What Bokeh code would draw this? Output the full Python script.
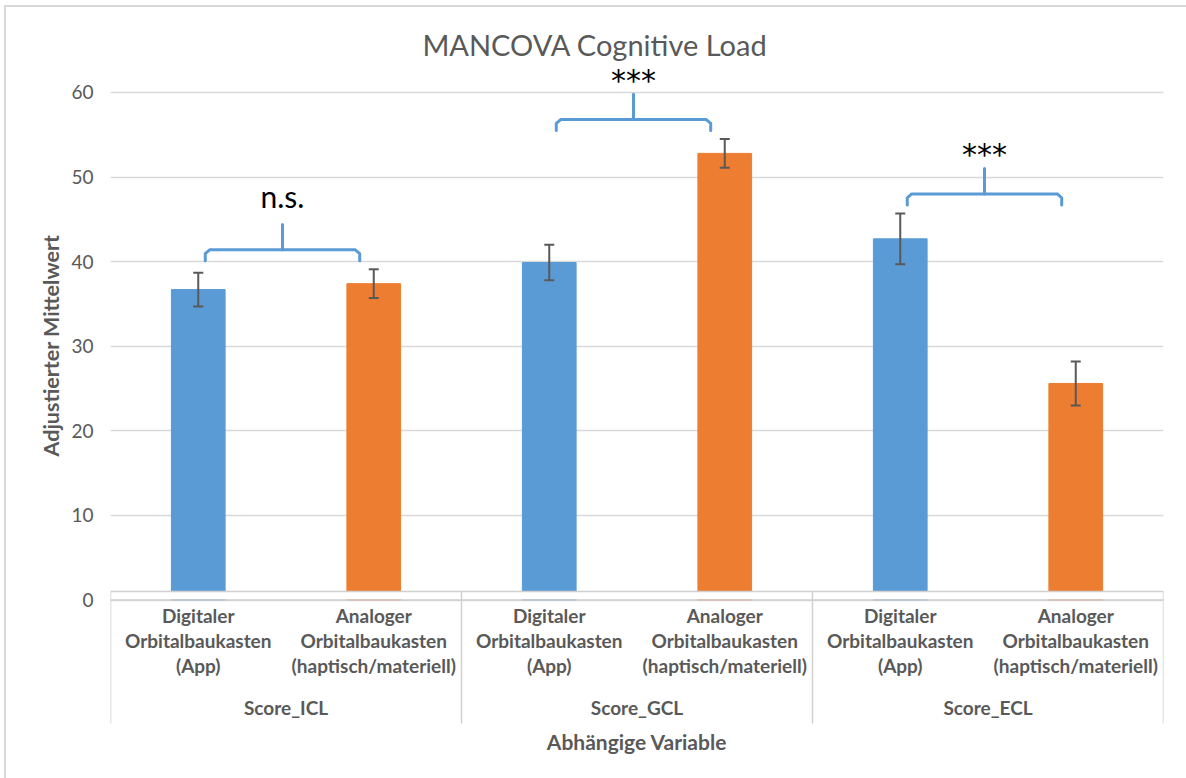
from bokeh.core.properties import value
from bokeh.embed import file_html
from bokeh.models import (ColumnDataSource, FactorRange, FixedTicker, Range1d,
                          TeeHead, Title, Whisker)
from bokeh.plotting import figure
from bokeh.resources import INLINE

# Dependent variables (outer groups) and the two learning conditions
variables = ["Score_ICL", "Score_GCL", "Score_ECL"]
conditions = ["Digitaler Orbitalbaukasten (App)",
              "Analoger Orbitalbaukasten (haptisch/materiell)"]

# Adjusted means and error-bar half widths, one entry per variable
mean_digital = [36.7, 39.9, 42.7]
mean_analog = [37.4, 52.8, 25.6]
err_digital = [2.0, 2.1, 3.0]
err_analog = [1.7, 1.7, 2.6]

# Pairwise comparison result per variable
significance = ["n.s.", "***", "***"]

y_ticks = [0, 10, 20, 30, 40, 50, 60]

title_text = "MANCOVA Cognitive Load"
y_title = "Adjustierter Mittelwert"
x_title = "Abhängige Variable"

BLUE = "#5B9BD5"
ORANGE = "#ED7D31"
TEXT_GREY = "#595959"
GRID = "#D9D9D9"
BOX = "#D0D0D0"
FONT = "Lato"

# ---- long-form bar table -------------------------------------------------
factors, tops, errs, colors = [], [], [], []
for i, var in enumerate(variables):
    factors += [(var, conditions[0]), (var, conditions[1])]
    tops += [mean_digital[i], mean_analog[i]]
    errs += [err_digital[i], err_analog[i]]
    colors += [BLUE, ORANGE]

src = ColumnDataSource(dict(
    x=factors,
    top=tops,
    upper=[t + e for t, e in zip(tops, errs)],
    lower=[t - e for t, e in zip(tops, errs)],
    color=colors,
    label=[c.replace(" ", "\n") for _, c in factors],
))

n = len(factors)
x_range = FactorRange(*factors, factor_padding=0, group_padding=0,
                      range_padding=0)

# transparent canvas so the chart-area border (inset shadow on the host
# element) shows along the left and top edges
p = figure(width=1186, height=778, x_range=x_range,
           y_range=Range1d(-21.09, 70.87),
           x_axis_location=None, y_axis_location="left",
           toolbar_location=None, output_backend="svg",
           min_border_left=110, min_border_right=23,
           min_border_top=0, min_border_bottom=0,
           outline_line_color=None, background_fill_color=None,
           border_fill_color=None,
           styles={"background-color": "white",
                   "box-shadow": "inset 4px 5px 0 0 white, "
                                 "inset 6px 7px 0 0 #D9D9D9"})

# ---- value axis and grid -------------------------------------------------
yaxis = p.yaxis[0]
yaxis.ticker = FixedTicker(ticks=y_ticks)
yaxis.axis_line_color = None
yaxis.major_tick_line_color = None
yaxis.minor_tick_line_color = None
yaxis.major_tick_out = 0
yaxis.major_tick_in = 0
yaxis.major_label_standoff = 17
yaxis.major_label_text_font = FONT
yaxis.major_label_text_font_size = "19px"
yaxis.major_label_text_color = TEXT_GREY

p.ygrid.ticker = FixedTicker(ticks=y_ticks)
p.ygrid.grid_line_color = GRID
p.ygrid.grid_line_width = 1.5
p.xgrid.grid_line_color = None

# value-axis title, placed alongside the 0..60 span of the axis
p.add_layout(Title(text=y_title, align="left", offset=322, standoff=10,
                   text_font=FONT, text_font_style="bold",
                   text_font_size="21.5px", text_color=TEXT_GREY), "left")

# ---- bars and error bars -------------------------------------------------
p.vbar(x="x", top="top", bottom=0, width=0.306, source=src,
       fill_color="color", line_color="color")

whisk = Whisker(source=src, base="x", upper="upper", lower="lower",
                line_color=TEXT_GREY, line_width=2, level="overlay",
                upper_head=TeeHead(size=10, line_color=TEXT_GREY, line_width=2),
                lower_head=TeeHead(size=10, line_color=TEXT_GREY, line_width=2))
p.add_layout(whisk)

# ---- category axis box (drawn below the value 0 line) --------------------
box_top, box_bottom = 1.02, -14.59
p.quad(left=0, right=n, bottom=0.1, top=box_top, fill_color="white",
       line_color=None)
p.segment(x0=[0, 0], x1=[n, n], y0=[box_top, 0], y1=[box_top, 0],
          line_color=BOX, line_width=1.5)
dividers = list(range(0, n + 1, len(conditions)))
p.segment(x0=dividers, x1=dividers, y0=[box_top] * len(dividers),
          y1=[box_bottom] * len(dividers), line_color=BOX, line_width=1.5)

p.text(x="x", y=-0.45, text="label", source=src, text_align="center",
       text_baseline="top", text_font=value(FONT), text_font_style="bold",
       text_font_size="19px", text_color=TEXT_GREY, text_line_height=1.1)
p.text(x=variables, y=[-12.7] * len(variables), text=variables,
       text_align="center", text_baseline="middle", text_font=value(FONT),
       text_font_style="bold", text_font_size="19px", text_color=TEXT_GREY)
p.text(x=[n / 2], y=[-16.73], text=[x_title], text_align="center",
       text_baseline="middle", text_font=value(FONT), text_font_style="bold",
       text_font_size="21px", text_color=TEXT_GREY)

# ---- significance brackets -----------------------------------------------
xs, ys, tx, ty, tfont = [], [], [], [], []
for i, sig in enumerate(significance):
    left = 2 * i + 0.5 + 0.04
    right = 2 * i + 1.5 - 0.08
    mid = (left + right) / 2
    peak = max(mean_digital[i] + err_digital[i], mean_analog[i] + err_analog[i])
    y_h = peak + 2.3
    y_end = y_h - 1.3
    y_stem = y_h + 3.0
    rx, ry = 0.025, 0.45
    xs += [[left, left, left + rx, right - rx, right, right], [mid, mid]]
    ys += [[y_end, y_h - ry, y_h, y_h, y_h - ry, y_end], [y_h, y_stem]]
    stars = sig.startswith("*")
    tx.append(mid)
    ty.append(y_stem + (1.66 if stars else 3.39))
    tfont.append("DejaVu Sans" if stars else FONT)

p.multi_line(xs=xs, ys=ys, line_color=BLUE, line_width=3,
             line_join="round", line_cap="round")
sig_src = ColumnDataSource(dict(x=tx, y=ty, text=significance, font=tfont))
p.text(x="x", y="y", text="text", source=sig_src, text_align="center",
       text_baseline="middle", text_font="font", text_font_size="30px",
       text_color="black")

# ---- chart title ---------------------------------------------------------
p.text(x=[n / 2], y=[65.67], text=[title_text], x_offset=-42,
       text_align="center", text_baseline="middle", text_font=value(FONT),
       text_font_size="29px", text_color=TEXT_GREY)

with open("out.html", "w") as f:
    f.write(file_html(p, INLINE))
